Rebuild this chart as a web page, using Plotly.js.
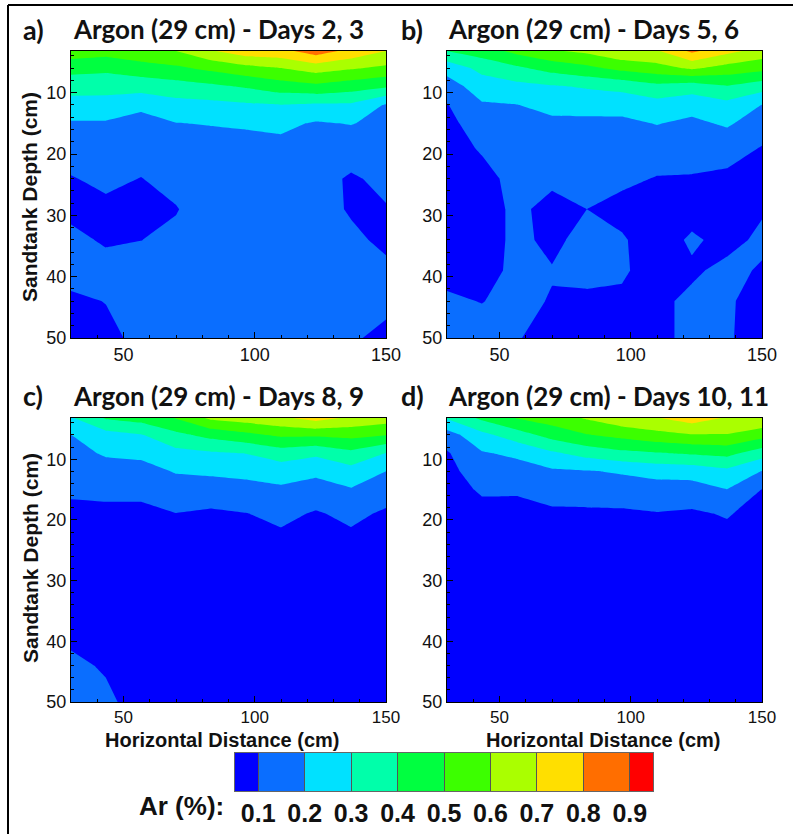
<!DOCTYPE html>
<html><head><meta charset="utf-8">
<script src="https://cdn.plot.ly/plotly-3.0.1.min.js"></script>
<style>html,body{margin:0;padding:0;background:#fff}</style>
</head><body><div id="chart" style="width:793px;height:834px"></div>
<script>
// Horizontal distance (cm) of the measurement columns
const xDist = [30, 43.3, 56.7, 70, 83.3, 96.7, 110, 123.3, 136.7, 150];
// Sandtank depth (cm) of the measurement rows
const depthRows = [3.2, 6, 9, 12, 15, 19, 24, 29, 34, 39, 44, 50];

// Argon (%) — one row per depth, one value per horizontal position
const arDays23 = [
  [0.56, 0.54, 0.58, 0.60, 0.69, 0.76, 0.77, 0.85, 0.77, 0.70],
  [0.433, 0.423, 0.452, 0.482, 0.523, 0.568, 0.598, 0.644, 0.61, 0.579],
  [0.339, 0.336, 0.343, 0.356, 0.378, 0.41, 0.453, 0.476, 0.444, 0.41],
  [0.26, 0.26, 0.219, 0.266, 0.273, 0.286, 0.298, 0.285, 0.284, 0.19],
  [0.19, 0.19, 0.17, 0.198, 0.205, 0.214, 0.224, 0.19, 0.205, 0.17],
  [0.14, 0.15, 0.14, 0.15, 0.16, 0.16, 0.17, 0.15, 0.14, 0.15],
  [0.095, 0.12, 0.098, 0.13, 0.15, 0.15, 0.15, 0.13, 0.09, 0.12],
  [0.08, 0.08, 0.07, 0.095, 0.15, 0.15, 0.15, 0.14, 0.09, 0.095],
  [0.12, 0.09, 0.099, 0.12, 0.14, 0.15, 0.15, 0.14, 0.12, 0.08],
  [0.13, 0.13, 0.13, 0.14, 0.14, 0.15, 0.15, 0.14, 0.13, 0.12],
  [0.085, 0.102, 0.13, 0.14, 0.14, 0.15, 0.15, 0.14, 0.12, 0.12],
  [0.07, 0.08, 0.12, 0.14, 0.14, 0.15, 0.15, 0.13, 0.11, 0.08]
];
const arDays56 = [
  [0.40, 0.45, 0.53, 0.59, 0.62, 0.68, 0.69, 0.82, 0.73, 0.66],
  [0.237, 0.329, 0.382, 0.437, 0.476, 0.529, 0.563, 0.614, 0.56, 0.53],
  [0.154, 0.248, 0.271, 0.29, 0.31, 0.329, 0.371, 0.345, 0.393, 0.344],
  [0.095, 0.19, 0.198, 0.228, 0.232, 0.234, 0.262, 0.236, 0.269, 0.198],
  [0.07, 0.155, 0.17, 0.18, 0.18, 0.18, 0.204, 0.18, 0.213, 0.15],
  [0.06, 0.11, 0.15, 0.15, 0.15, 0.15, 0.15, 0.13, 0.14, 0.095],
  [0.05, 0.07, 0.13, 0.12, 0.13, 0.12, 0.095, 0.095, 0.08, 0.06],
  [0.05, 0.06, 0.12, 0.07, 0.10, 0.07, 0.06, 0.06, 0.05, 0.09],
  [0.06, 0.06, 0.12, 0.08, 0.13, 0.11, 0.05, 0.115, 0.07, 0.12],
  [0.08, 0.07, 0.12, 0.105, 0.13, 0.115, 0.05, 0.085, 0.125, 0.09],
  [0.11, 0.098, 0.12, 0.095, 0.08, 0.08, 0.08, 0.12, 0.11, 0.07],
  [0.13, 0.13, 0.105, 0.07, 0.06, 0.06, 0.07, 0.13, 0.11, 0.06]
];
const arDays89 = [
  [0.29, 0.41, 0.44, 0.505, 0.62, 0.65, 0.68, 0.74, 0.68, 0.65],
  [0.199, 0.262, 0.293, 0.376, 0.43, 0.474, 0.518, 0.517, 0.53, 0.502],
  [0.171, 0.21, 0.22, 0.27, 0.288, 0.302, 0.35, 0.318, 0.374, 0.298],
  [0.142, 0.164, 0.167, 0.206, 0.217, 0.227, 0.246, 0.223, 0.262, 0.199],
  [0.113, 0.12, 0.12, 0.158, 0.153, 0.167, 0.184, 0.158, 0.193, 0.147],
  [0.08, 0.08, 0.08, 0.098, 0.085, 0.097, 0.124, 0.09, 0.123, 0.085],
  [0.06, 0.06, 0.06, 0.07, 0.06, 0.06, 0.07, 0.06, 0.07, 0.06],
  [0.06, 0.06, 0.06, 0.06, 0.06, 0.06, 0.06, 0.06, 0.06, 0.06],
  [0.07, 0.06, 0.06, 0.06, 0.06, 0.06, 0.06, 0.06, 0.06, 0.06],
  [0.09, 0.07, 0.06, 0.06, 0.06, 0.06, 0.06, 0.06, 0.06, 0.06],
  [0.11, 0.095, 0.07, 0.06, 0.06, 0.06, 0.06, 0.06, 0.06, 0.06],
  [0.13, 0.11, 0.08, 0.06, 0.06, 0.06, 0.06, 0.06, 0.06, 0.06]
];
const arDays1011 = [
  [0.31, 0.42, 0.505, 0.55, 0.61, 0.67, 0.695, 0.75, 0.69, 0.69],
  [0.155, 0.272, 0.353, 0.437, 0.495, 0.529, 0.568, 0.594, 0.595, 0.537],
  [0.09, 0.191, 0.219, 0.284, 0.337, 0.376, 0.394, 0.412, 0.429, 0.344],
  [0.07, 0.151, 0.159, 0.185, 0.193, 0.21, 0.232, 0.24, 0.276, 0.196],
  [0.06, 0.112, 0.111, 0.135, 0.141, 0.15, 0.16, 0.159, 0.198, 0.098],
  [0.05, 0.07, 0.07, 0.085, 0.085, 0.085, 0.095, 0.085, 0.108, 0.06],
  [0.05, 0.05, 0.05, 0.05, 0.05, 0.05, 0.05, 0.05, 0.06, 0.05],
  [0.05, 0.05, 0.05, 0.05, 0.05, 0.05, 0.05, 0.05, 0.05, 0.05],
  [0.05, 0.05, 0.05, 0.05, 0.05, 0.05, 0.05, 0.05, 0.05, 0.05],
  [0.05, 0.05, 0.05, 0.05, 0.05, 0.05, 0.05, 0.05, 0.05, 0.05],
  [0.05, 0.05, 0.05, 0.05, 0.05, 0.05, 0.05, 0.05, 0.05, 0.05],
  [0.05, 0.05, 0.05, 0.05, 0.05, 0.05, 0.05, 0.05, 0.05, 0.05]
];

const panelLetters = ['a)', 'b)', 'c)', 'd)'];
const panelTitles = ['Argon (29 cm) - Days 2, 3', 'Argon (29 cm) - Days 5, 6',
                     'Argon (29 cm) - Days 8, 9', 'Argon (29 cm) - Days 10, 11'];

// Contour levels and legend
const levels = [0.1, 0.2, 0.3, 0.4, 0.5, 0.6, 0.7, 0.8, 0.9];
const levelLabels = ['0.1', '0.2', '0.3', '0.4', '0.5', '0.6', '0.7', '0.8', '0.9'];
const barEdges = [0.05, 0.1, 0.2, 0.3, 0.4, 0.5, 0.6, 0.7, 0.8, 0.9, 0.95];
const barValues = [0.05, 0.15, 0.25, 0.35, 0.45, 0.55, 0.65, 0.75, 0.85, 0.95];
const bandColors = ['#0000ff', '#0a6eff', '#00e1ff', '#00ffaa', '#00ff40',
                    '#3cff00', '#aaff00', '#ffdf00', '#ff6e00', '#ff0000'];

const colorscale = bandColors.map((c, i) => [i / (bandColors.length - 1), c]);

const W = 793, H = 834;
const px = v => v / W;
const py = v => 1 - v / H;
const ARIAL = '"Liberation Sans", Arial, sans-serif';

const panels = [
  {z: arDays23, x0: 71, x1: 386, y0: 51, y1: 338},
  {z: arDays56, x0: 447, x1: 762, y0: 51, y1: 338},
  {z: arDays89, x0: 71, x1: 386, y0: 418, y1: 702},
  {z: arDays1011, x0: 447, x1: 762, y0: 418, y1: 702}
];

const traces = [];
const layout = {
  width: W, height: H, autosize: false,
  margin: {l: 0, r: 0, t: 0, b: 0},
  paper_bgcolor: '#fff', plot_bgcolor: '#fff',
  showlegend: false,
  font: {family: ARIAL, color: '#111'},
  annotations: [], shapes: []
};

panels.forEach((p, i) => {
  const n = i === 0 ? '' : String(i + 1);
  traces.push({
    type: 'contour', x: xDist, y: depthRows, z: p.z,
    xaxis: 'x' + n, yaxis: 'y' + n,
    autocontour: false,
    contours: {start: levels[0], end: levels[levels.length - 1], size: 0.1,
               coloring: 'fill', showlines: false},
    line: {width: 0, smoothing: 0},
    colorscale: colorscale, showscale: false, hoverinfo: 'skip'
  });
  layout['xaxis' + n] = {
    domain: [px(p.x0), px(p.x1)], anchor: 'y' + n, range: [30, 150],
    tickvals: [50, 100, 150], ticks: 'inside', ticklen: 6, tickcolor: '#000',
    minor: {ticks: 'inside', ticklen: 3, dtick: 10, tickcolor: '#000', showgrid: false},
    showline: true, mirror: true, linecolor: '#000', linewidth: 1,
    showgrid: false, zeroline: false,
    tickfont: {family: ARIAL, size: i < 2 ? 18 : 17, color: '#111'}, fixedrange: true
  };
  layout['yaxis' + n] = {
    domain: [py(p.y1), py(p.y0)], anchor: 'x' + n, range: [50, 3.2],
    tickvals: [10, 20, 30, 40, 50], ticks: 'inside', ticklen: 6, tickcolor: '#000',
    minor: {ticks: 'inside', ticklen: 3, dtick: 2, tickcolor: '#000', showgrid: false},
    showline: true, mirror: true, linecolor: '#000', linewidth: 1,
    showgrid: false, zeroline: false,
    tickfont: {family: ARIAL, size: 18, color: '#111'}, fixedrange: true
  };
  const ty = i < 2 ? 29 : 396;
  layout.annotations.push({
    xref: 'paper', yref: 'paper', x: px(i % 2 === 0 ? 21 : 399), y: py(ty),
    xanchor: 'left', yanchor: 'middle', showarrow: false, text: panelLetters[i],
    font: {family: 'Lato, sans-serif', size: 27, weight: 'bold', color: '#111'}
  });
  layout.annotations.push({
    xref: 'paper', yref: 'paper', x: px(i % 2 === 0 ? 71 : 446), y: py(ty),
    xanchor: 'left', yanchor: 'middle', showarrow: false, text: panelTitles[i],
    font: {family: 'Lato, sans-serif', size: 26, weight: 'bold', color: '#111'}
  });
});

// Axis titles
[197, 558].forEach(cy => layout.annotations.push({
  xref: 'paper', yref: 'paper', x: px(30), y: py(cy), textangle: -90,
  xanchor: 'center', yanchor: 'middle', showarrow: false, text: 'Sandtank Depth (cm)',
  font: {family: ARIAL, size: 21, weight: 'bold', color: '#111'}
}));
[222, 603].forEach(cx => layout.annotations.push({
  xref: 'paper', yref: 'paper', x: px(cx), y: py(740),
  xanchor: 'center', yanchor: 'middle', showarrow: false, text: 'Horizontal Distance (cm)',
  font: {family: ARIAL, size: 20, weight: 'bold', color: '#111'}
}));

// Legend bar
traces.push({
  type: 'heatmap', x: barEdges, y: [0, 1], z: [barValues],
  zmin: barEdges[0], zmax: barEdges[barEdges.length - 1],
  colorscale: colorscale, showscale: false, hoverinfo: 'skip',
  xaxis: 'x5', yaxis: 'y5'
});
layout.xaxis5 = {
  domain: [px(235), px(653)], anchor: 'y5',
  range: [barEdges[0], barEdges[barEdges.length - 1]],
  tickvals: levels, ticktext: levelLabels,
  ticks: 'inside', ticklen: 38, tickwidth: 1, tickcolor: '#555',
  showline: true, mirror: true, linecolor: '#666', linewidth: 1,
  showgrid: false, zeroline: false, fixedrange: true,
  tickfont: {family: ARIAL, size: 25, weight: 'bold', color: '#111'}
};
layout.yaxis5 = {
  domain: [py(791), py(753)], anchor: 'x5', range: [0, 1],
  showline: true, mirror: true, linecolor: '#666', linewidth: 1,
  ticks: '', showticklabels: false, showgrid: false, zeroline: false, fixedrange: true
};
layout.annotations.push({
  xref: 'paper', yref: 'paper', x: px(226), y: py(806),
  xanchor: 'right', yanchor: 'middle', showarrow: false, text: 'Ar (%):',
  font: {family: ARIAL, size: 26, weight: 'bold', color: '#111'}
});

// Outer frame (top and left edges)
layout.shapes.push(
  {type: 'line', xref: 'paper', yref: 'paper', x0: px(8), x1: 1, y0: py(5), y1: py(5),
   line: {color: '#000', width: 2}},
  {type: 'line', xref: 'paper', yref: 'paper', x0: px(8), x1: px(8), y0: py(5), y1: 0,
   line: {color: '#000', width: 2}}
);

Plotly.newPlot('chart', traces, layout, {displayModeBar: false, staticPlot: true});
</script>
</body></html>
